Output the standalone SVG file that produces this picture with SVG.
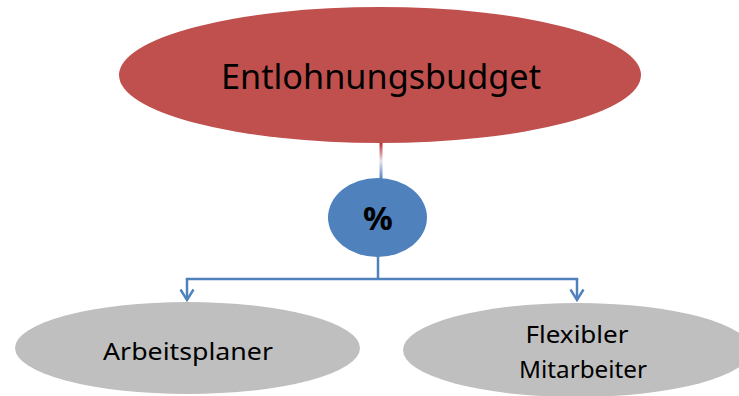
<svg xmlns="http://www.w3.org/2000/svg" width="739" height="396" viewBox="0 0 739 396">
  <defs>
    <linearGradient id="stemGrad" x1="0" y1="143" x2="0" y2="179" gradientUnits="userSpaceOnUse">
      <stop offset="0" stop-color="#C0282D"/>
      <stop offset="0.5" stop-color="#E8E4EE"/>
      <stop offset="1" stop-color="#4F81BD"/>
    </linearGradient>
    <!-- open V arrowhead, drawn pointing along +x so orient="auto" follows the line -->
    <marker id="openArrow" markerWidth="14" markerHeight="16" refX="12" refY="8" orient="auto" markerUnits="userSpaceOnUse" viewBox="0 0 14 16">
      <path d="M1.5,1.5 L12,8 L1.5,14.5" fill="none" stroke="#4F81BD" stroke-width="2.4"/>
    </marker>
  </defs>
  <style>
    .lbl { font-family: "Noto Sans", "Open Sans", Arial, sans-serif; fill: #000; text-anchor: middle; }
    .conn { fill: none; stroke: #4F81BD; stroke-width: 2.5; }
  </style>
  <rect width="739" height="396" fill="#FFFFFF"/>

  <g id="connectors">
    <line x1="381" y1="140" x2="381" y2="180" stroke="url(#stemGrad)" stroke-width="3"/>
    <line class="conn" x1="378" y1="255" x2="378" y2="279"/>
    <path class="conn" d="M187,280 V279 H577 V280"/>
    <line class="conn" x1="187" y1="279" x2="187" y2="300" marker-end="url(#openArrow)"/>
    <line class="conn" x1="577" y1="279" x2="577" y2="300" marker-end="url(#openArrow)"/>
  </g>

  <g id="budget">
    <ellipse cx="380" cy="75" rx="261" ry="68" fill="#C0504D"/>
    <text class="lbl" x="381" y="89" font-size="35" textLength="320" lengthAdjust="spacingAndGlyphs">Entlohnungsbudget</text>
  </g>

  <g id="percent">
    <ellipse cx="377.5" cy="217.5" rx="49.5" ry="39.5" fill="#4F81BD"/>
    <text class="lbl" x="378" y="230" font-size="33" font-weight="bold">%</text>
  </g>

  <g id="arbeitsplaner">
    <ellipse cx="187.5" cy="348" rx="172.5" ry="46" fill="#BFBFBF"/>
    <text class="lbl" x="188" y="360" font-size="24" textLength="170" lengthAdjust="spacingAndGlyphs">Arbeitsplaner</text>
  </g>

  <g id="flexibler">
    <ellipse cx="577" cy="350" rx="174" ry="47" fill="#BFBFBF"/>
    <text class="lbl" x="577" y="343" font-size="24" textLength="103" lengthAdjust="spacingAndGlyphs">Flexibler</text>
    <text class="lbl" x="583" y="378" font-size="24" textLength="128" lengthAdjust="spacingAndGlyphs">Mitarbeiter</text>
  </g>
</svg>
